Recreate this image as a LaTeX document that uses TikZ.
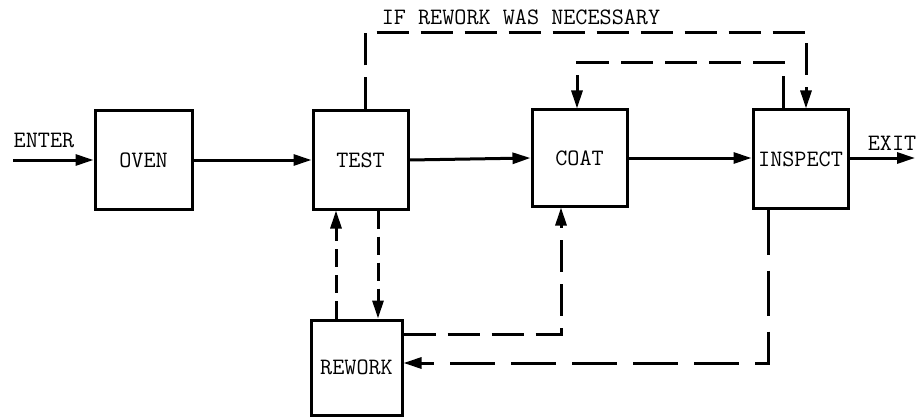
\documentclass[tikz,border=0pt]{standalone}
\usepackage{fontspec}
\usetikzlibrary{arrows.meta}
\begin{document}
\begin{tikzpicture}[x=1pt,y=-1pt,
  box/.style={draw,line width=3pt,inner sep=0pt,font=\ttfamily\fontsize{23.5}{26}\selectfont},
  lbl/.style={inner sep=0pt,font=\ttfamily\fontsize{23.5}{26}\selectfont},
  flow/.style={line width=3pt,-{Triangle[length=18pt,width=11pt]}},
  dsh/.style={line width=3pt,dash pattern=on 18pt off 8pt},
  dlong/.style={line width=3pt,dash pattern=on 45pt off 16pt},
  dmid/.style={line width=3pt,dash pattern=on 32pt off 12pt},
  tip/.style={-{Triangle[length=18pt,width=11pt]}}]
\useasboundingbox (0,0) rectangle (917,417);
\node[box,minimum width=97pt,minimum height=98pt] (oven) at (143.5,160) {OVEN};
\node[box,minimum width=95pt,minimum height=98pt] (test) at (360.5,160) {TEST};
\node[box,minimum width=95pt,minimum height=96pt] (coat) at (579.5,158) {COAT};
\node[box,minimum width=95pt,minimum height=98pt] (inspect) at (800.5,159) {INSPECT};
\node[box,minimum width=91pt,minimum height=95pt] (rework) at (356.5,367.5) {REWORK};
\coordinate (enter) at (13,160);
\coordinate (exit) at (915,158);
\node[lbl] (lenter) at (44,140) {ENTER};
\node[lbl] (lexit) at (892,143) {EXIT};
\node[lbl] (lif) at (521,17) {IF REWORK WAS NECESSARY};
\draw[flow] (enter) -- (oven.west);
\draw[flow] (oven.east) -- (test.west);
\draw[flow] (test.east) -- (coat.west);
\draw[flow] (coat.east) -- (inspect.west |- coat.east);
\draw[flow] (inspect.east |- exit) -- (exit);
% top dashed loop
\coordinate (t1) at (365,33);
\coordinate (t2) at (806,33);
\draw[dmid,tip] (test.north -| t1) -- (t1) -- (t2) -- (t2 |- inspect.north);
\coordinate (c1) at (783,63);
\coordinate (c2) at (577,63);
\draw[dmid,tip] (c1 |- inspect.north) -- (c1) -- (c2) -- (c2 |- coat.north);
% test - rework
\coordinate (u1) at (336,260);
\coordinate (u2) at (378,260);
\draw[dsh,tip] (u1 |- rework.north) -- (u1 |- test.south);
\draw[dsh,tip] (u2 |- test.south) -- (u2 |- rework.north);
% rework -> coat
\coordinate (r1) at (561,334);
\draw[dmid,tip] (rework.east |- r1) -- (r1) -- (r1 |- coat.south);
% inspect -> rework
\coordinate (r2) at (768,363);
\draw[dlong,tip] (r2 |- inspect.south) -- (r2) -- (rework.east |- r2);
\end{tikzpicture}
\end{document}
